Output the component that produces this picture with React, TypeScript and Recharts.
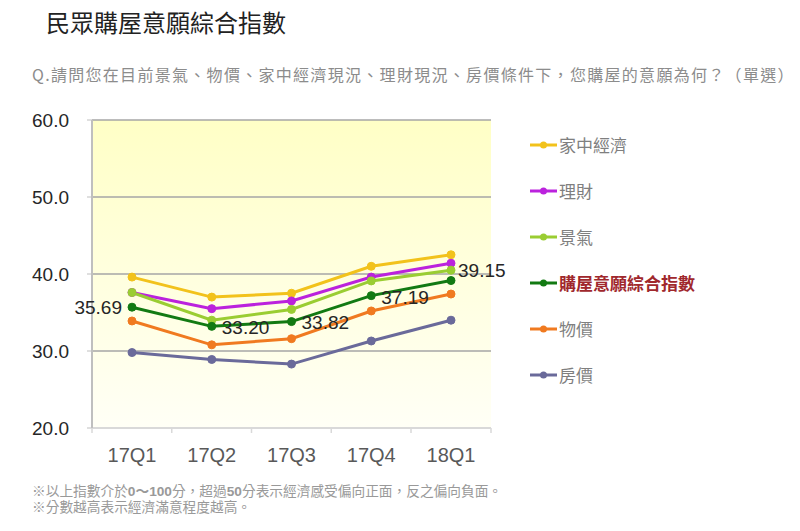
import React from "react";
import { LineChart, Line, XAxis, YAxis, CartesianGrid, LabelList } from "recharts";

const categories = ["17Q1", "17Q2", "17Q3", "17Q4", "18Q1"];
const household = [39.6, 37.0, 37.5, 41.0, 42.5];
const finance = [37.6, 35.5, 36.5, 39.6, 41.4];
const economy = [37.6, 34.0, 35.4, 39.1, 40.5];
const overall = [35.69, 33.2, 33.82, 37.19, 39.15];
const prices = [33.9, 30.8, 31.6, 35.2, 37.4];
const housing = [29.8, 28.9, 28.3, 31.3, 34.0];
const yTicks = [20, 30, 40, 50, 60];

const series = [
  { key: "household", name: "家中經濟", values: household, color: "#F2C21B" },
  { key: "finance", name: "理財", values: finance, color: "#BB22DD" },
  { key: "economy", name: "景氣", values: economy, color: "#9ACD32" },
  { key: "overall", name: "購屋意願綜合指數", values: overall, color: "#127A12" },
  { key: "prices", name: "物價", values: prices, color: "#F07A20" },
  { key: "housing", name: "房價", values: housing, color: "#6A6A9A" },
];

const data = categories.map((c, i) => {
  const row: any = { cat: c };
  series.forEach((s) => (row[s.key] = s.values[i]));
  return row;
});

const labelOffsets = [
  { dx: -10, dy: 0, anchor: "end" },
  { dx: 10, dy: 1, anchor: "start" },
  { dx: 10, dy: 1, anchor: "start" },
  { dx: 10, dy: 2, anchor: "start" },
  { dx: 7, dy: -10, anchor: "start" },
];

const renderLabel = (props: any) => {
  const { x, y, value, index } = props;
  const o = labelOffsets[index];
  return (
    <text
      x={x + o.dx}
      y={y + o.dy}
      textAnchor={o.anchor}
      dominantBaseline="central"
      fontSize={19}
      fill="#262626"
      fontFamily="Liberation Sans, Arial, sans-serif"
    >
      {Number(value).toFixed(2)}
    </text>
  );
};

const XTick = (props: any) => {
  const { x, y, payload, index } = props;
  const half = 40;
  return (
    <g>
      <line x1={x - half} y1={y - 8} x2={x - half} y2={y - 3} stroke="#d9d9d9" strokeWidth={1.5} />
      {index === categories.length - 1 && (
        <line x1={x + half} y1={y - 8} x2={x + half} y2={y - 3} stroke="#d9d9d9" strokeWidth={1.5} />
      )}
      <text
        x={x}
        y={y + 19}
        textAnchor="middle"
        dominantBaseline="central"
        fontSize={20}
        fill="#595959"
        fontFamily="Liberation Sans, Arial, sans-serif"
      >
        {payload.value}
      </text>
    </g>
  );
};

const YTick = (props: any) => {
  const { x, y, payload } = props;
  return (
    <text
      x={x - 16}
      y={y}
      textAnchor="end"
      dominantBaseline="central"
      fontSize={19}
      fill="#262626"
      fontFamily="Liberation Sans, Arial, sans-serif"
    >
      {Number(payload.value).toFixed(1)}
    </text>
  );
};

export default function App() {
  return (
    <div
      style={{
        position: "absolute",
        left: 0,
        top: 0,
        width: 800,
        height: 531,
        background: "#fff",
        fontFamily: "'Noto Sans CJK TC', 'Liberation Sans', sans-serif",
      }}
    >
      <div style={{ position: "absolute", left: 46, top: 7, fontSize: 24, lineHeight: "30px", color: "#222", whiteSpace: "nowrap" }}>
        民眾購屋意願綜合指數
      </div>
      <div style={{ position: "absolute", left: 32, top: 63, fontSize: 16, lineHeight: "22px", color: "#8c8c8c", whiteSpace: "nowrap", letterSpacing: 1.3 }}>
        Q.請問您在目前景氣、物價、家中經濟現況、理財現況、房價條件下，您購屋的意願為何？（單選）
      </div>
      <LineChart
        width={800}
        height={531}
        data={data}
        margin={{ top: 120, right: 309, bottom: 63, left: 0 }}
        style={{ position: "absolute", left: 0, top: 0 }}
      >
        <defs>
          <linearGradient id="bgGrad" x1="0" y1="0" x2="0" y2="1">
            <stop offset="0%" stopColor="#FFFFC6" />
            <stop offset="100%" stopColor="#FFFFF6" />
          </linearGradient>
        </defs>
        <CartesianGrid vertical={false} stroke="#a6a6a6" strokeWidth={1.5} fill="url(#bgGrad)" fillOpacity={1} />
        <XAxis
          dataKey="cat"
          padding={{ left: 40, right: 40 }}
          axisLine={{ stroke: "#d9d9d9", strokeWidth: 2 }}
          tickLine={false}
          tick={<XTick />}
          height={40}
          interval={0}
        />
        <YAxis
          domain={[20, 60]}
          ticks={yTicks}
          width={92}
          axisLine={{ stroke: "#bfbfbf", strokeWidth: 2 }}
          tickLine={{ stroke: "#bfbfbf" }}
          tickSize={5}
          tick={<YTick />}
        />
        {series.map((s) => (
          <Line
            key={s.key}
            dataKey={s.key}
            name={s.name}
            stroke={s.color}
            strokeWidth={3}
            dot={{ r: 4, fill: s.color, stroke: s.color, strokeWidth: 1 }}
            isAnimationActive={false}
          >
            {s.key === "overall" && <LabelList dataKey="overall" content={renderLabel} />}
          </Line>
        ))}
      </LineChart>
      <div style={{ position: "absolute", left: 530, top: 122 }}>
        {series.map((s) => (
          <div key={s.key} style={{ display: "flex", alignItems: "center", height: 46 }}>
            <svg width={27} height={10} style={{ marginRight: 2 }}>
              <line x1={0} y1={5} x2={27} y2={5} stroke={s.color} strokeWidth={3} />
              <circle cx={13.5} cy={5} r={3.5} fill={s.color} />
            </svg>
            <span
              style={{
                fontSize: 17,
                color: s.key === "overall" ? "#A0282D" : "#7f7f7f",
                fontWeight: s.key === "overall" ? "bold" : "normal",
                lineHeight: "22px",
              }}
            >
              {s.name}
            </span>
          </div>
        ))}
      </div>
      <div
        style={{
          position: "absolute",
          left: 32,
          top: 484,
          fontSize: 13.7,
          color: "#999",
          lineHeight: "16px",
          whiteSpace: "nowrap",
          fontFamily: "'Liberation Sans', 'Noto Sans CJK TC', sans-serif",
        }}
      >
        <div>
          ※以上指數介於<b>0～100</b>分，超過<b>50</b>分表示經濟感受偏向正面，反之偏向負面。
        </div>
        <div>※分數越高表示經濟滿意程度越高。</div>
      </div>
    </div>
  );
}
